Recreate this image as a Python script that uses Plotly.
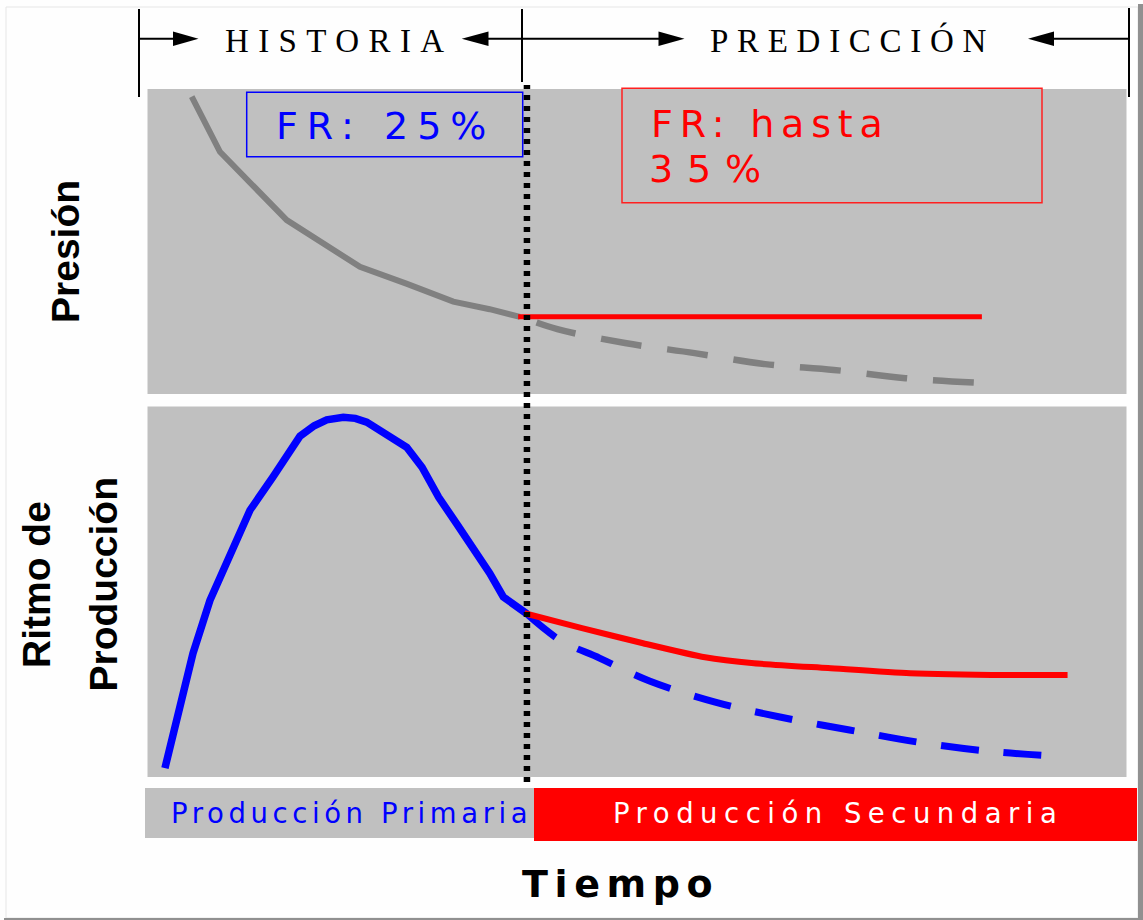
import plotly.graph_objects as go

W, H = 1143, 920

# ---------------- data (time in arbitrary units, values 0-100) ----------------
# Upper panel: Presión
pres_hist_t = [4.51, 7.39, 14.2, 21.67, 26.4, 31.19, 34.9, 37.99]
pres_hist_v = [97.5, 79.4, 57.0, 41.7, 36.2, 30.3, 27.8, 25.3]
pres_prim_t = [38.2, 41.8, 48.7, 55.8, 63.0, 70.0, 77.3, 85.2]
pres_prim_v = [25.2, 21.3, 16.7, 13.4, 9.8, 7.9, 5.2, 3.6]
pres_sec_t = [37.8, 85.1]
pres_sec_v = [25.3, 25.3]

# Lower panel: Ritmo de Producción
rate_hist_t = [1.78, 2.63, 3.31, 4.64, 6.37, 7.39, 9.10, 10.45, 12.80, 15.55, 17.0, 18.28,
               19.97, 21.2, 22.36, 24.73, 26.44, 28.0, 29.7, 31.54, 33.2, 34.9, 36.29, 38.67]
rate_hist_v = [2.4, 11.8, 20.8, 33.4, 47.7, 53.9, 63.9, 72.0, 81.0, 92.0, 94.8, 96.4,
               97.1, 96.8, 95.8, 91.7, 89.0, 83.6, 75.5, 68.3, 62.0, 55.0, 48.6, 44.1]
rate_prim_t = [38.6, 42.1, 46.1, 51.2, 57.9, 64.5, 71.6, 78.6, 85.6, 92.0]
rate_prim_v = [44.2, 36.9, 32.1, 25.9, 20.2, 16.2, 12.7, 9.4, 7.0, 5.7]
rate_sec_t = [38.46, 44.31, 50.54, 56.86, 61.86, 69.41, 77.77, 87.76, 93.84]
rate_sec_v = [44.2, 40.2, 36.1, 32.3, 30.7, 29.4, 28.0, 27.5, 27.5]

split_t = 38.7  # boundary historia / predicción

T_RANGE = [0, 99.85]
V_RANGE = [0, 100]

# ---------------- helpers ----------------
def px(x):
    return x / W


def py(y):
    return 1 - y / H


def ls(text, sp):
    return '<span style="letter-spacing:%spx">%s</span>' % (sp, text)


GRAY_BG = '#C0C0C0'
SANS = 'Liberation Sans, Arial, sans-serif'
WIDE = 'DejaVu Sans, Verdana, sans-serif'
SERIF = 'Liberation Serif, Times New Roman, serif'

fig = go.Figure()

# upper panel traces
fig.add_trace(go.Scatter(x=pres_prim_t, y=pres_prim_v, mode='lines', xaxis='x', yaxis='y',
                         line=dict(color='#808080', width=6.5, dash='0px,15px,41px,11px',
                                   shape='spline'),
                         hoverinfo='skip'))
fig.add_trace(go.Scatter(x=pres_hist_t, y=pres_hist_v, mode='lines', xaxis='x', yaxis='y',
                         line=dict(color='#808080', width=6),
                         hoverinfo='skip'))
fig.add_trace(go.Scatter(x=pres_sec_t, y=pres_sec_v, mode='lines', xaxis='x', yaxis='y',
                         line=dict(color='#FF0000', width=5), hoverinfo='skip'))

# lower panel traces
fig.add_trace(go.Scatter(x=rate_prim_t, y=rate_prim_v, mode='lines', xaxis='x2', yaxis='y2',
                         line=dict(color='#0000FF', width=7, dash='38px,25px', shape='spline'),
                         hoverinfo='skip'))
fig.add_trace(go.Scatter(x=rate_hist_t, y=rate_hist_v, mode='lines', xaxis='x2', yaxis='y2',
                         line=dict(color='#0000FF', width=7.5),
                         hoverinfo='skip'))
fig.add_trace(go.Scatter(x=rate_sec_t, y=rate_sec_v, mode='lines', xaxis='x2', yaxis='y2',
                         line=dict(color='#FF0000', width=6, shape='spline', smoothing=0.6),
                         hoverinfo='skip'))

axis_common = dict(showgrid=False, zeroline=False, showticklabels=False, ticks='',
                   showline=False, fixedrange=True)
XDOM = [px(147.5), px(1126.5)]

shapes = []


def line(x0, y0, x1, y1, color='black', width=2, dash=None):
    d = dict(color=color, width=width)
    if dash:
        d['dash'] = dash
    shapes.append(dict(type='line', xref='paper', yref='paper', x0=px(x0), y0=py(y0),
                       x1=px(x1), y1=py(y1), line=d))


def rect(x0, y0, x1, y1, fill=None, color=None, width=0):
    s = dict(type='rect', xref='paper', yref='paper', x0=px(x0), y0=py(y0),
             x1=px(x1), y1=py(y1), line=dict(width=width, color=color or 'rgba(0,0,0,0)'))
    if fill:
        s['fillcolor'] = fill
    shapes.append(s)


def tri(xb, xt, yc, h=14.5, color='black'):
    path = 'M %f,%f L %f,%f L %f,%f Z' % (px(xb), py(yc - h / 2), px(xt), py(yc),
                                         px(xb), py(yc + h / 2))
    shapes.append(dict(type='path', xref='paper', yref='paper', path=path,
                       fillcolor=color, line=dict(width=0)))


# outer frame
rect(6, 7, 1138, 918, color='#E6E6E6', width=1)
rect(1138, 4, 1143, 920, fill='#909090')
rect(4, 918, 1143, 920, fill='#909090')

# header
HY = 38.7
line(139, 9, 139, 97)
line(522, 9, 522, 82)
line(1129, 8, 1129, 97)
line(139, HY, 175, HY)
line(487, HY, 660, HY)
line(1052, HY, 1129, HY)
tri(173, 198.5, HY)
tri(488.5, 461.7, HY)
tri(658.5, 684.5, HY)
tri(1054, 1028, HY)

# boxes
rect(246.7, 92.3, 522.7, 156.7, color='#0000FF', width=1.5)
rect(622, 88.3, 1042, 202.7, color='#FF2020', width=1.5)

# bottom bars
rect(145, 788, 534, 838, fill=GRAY_BG)
rect(534, 788, 1137, 841, fill='#FF0000')

# dotted split line
shapes.append(dict(type='line', xref='x', yref='paper', x0=split_t, x1=split_t,
                   y0=py(782), y1=py(85),
                   line=dict(color='black', width=6.5, dash='5px,6px')))

annotations = []


def text(x, y, t, size, color='black', family=SANS, sp=0, xanchor='left', angle=0):
    annotations.append(dict(xref='paper', yref='paper', x=px(x), y=py(y),
                            text=ls(t, sp) if sp else t, showarrow=False,
                            xanchor=xanchor, yanchor='middle', borderpad=0,
                            textangle=angle,
                            font=dict(family=family, size=size, color=color)))


text(224, 40.5, 'HISTORIA', 33, family=SERIF, sp=9.4)
text(709, 40.5, 'PREDICCIÓN', 33, family=SERIF, sp=8.7)
text(275, 125.5, 'FR: 25%', 38, color='#0000FF', family=WIDE, sp=9)
text(650, 124, 'FR: hasta', 38, color='#FF0000', family=WIDE, sp=6.8)
text(648, 169, '35%', 38, color='#FF0000', family=WIDE, sp=13.8)
text(170, 813, 'Producción Primaria', 27.5, color='#0000FF', family=WIDE, sp=4.6)
text(612, 813, 'Producción Secundaria', 27.5, color='#FFFFFF', family=WIDE, sp=6.5)
text(520.5, 884, '<b>Tiempo</b>', 38, family=WIDE, sp=6.6)
text(66, 252, '<b>Presión</b>', 39, xanchor='center', angle=-90)
text(36, 585, '<b>Ritmo de</b>', 39, xanchor='center', angle=-90)
text(102.5, 584, '<b>Producción</b>', 39, xanchor='center', angle=-90)

fig.update_layout(
    width=W, height=H, autosize=False,
    margin=dict(l=0, r=0, t=0, b=0, pad=0),
    paper_bgcolor='#FEFEFE', plot_bgcolor=GRAY_BG,
    showlegend=False,
    xaxis=dict(domain=XDOM, range=T_RANGE, anchor='y', **axis_common),
    yaxis=dict(domain=[py(394), py(89)], range=V_RANGE, anchor='x', **axis_common),
    xaxis2=dict(domain=XDOM, range=T_RANGE, anchor='y2', **axis_common),
    yaxis2=dict(domain=[py(777), py(406.5)], range=V_RANGE, anchor='x2', **axis_common),
    shapes=shapes,
    annotations=annotations,
)

fig.write_html("out.html", config={'displayModeBar': False},
               post_script="document.body.style.margin='0';document.body.style.overflow='hidden';")
